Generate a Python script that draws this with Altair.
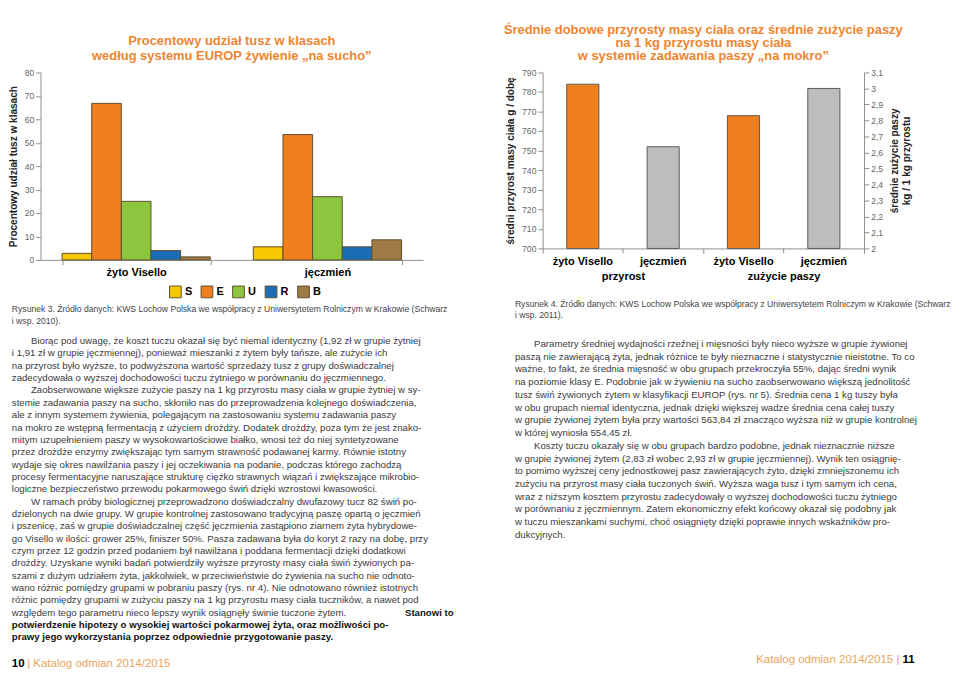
import altair as alt
import pandas as pd

FONT = "Liberation Sans"
ORANGE_T = "#EE8530"

# ---------------- Rysunek 3 data ----------------
grains = ["żyto Visello", "jęczmień"]
classes = ["S", "E", "U", "R", "B"]
share_rye = [2.8, 66.8, 25.0, 4.0, 1.3]
share_barley = [5.6, 53.5, 27.0, 5.6, 8.6]
class_colors = ["#F6C800", "#F0801E", "#8CC63E", "#1B6DB5", "#A07A45"]

# ---------------- Rysunek 4 data ----------------
groups4 = ["przyrost", "zużycie paszy"]
gain = [784, 752]        # g / dobę
feed = [2.83, 3.00]      # kg / 1 kg przyrostu
grain_colors = ["#F0801E", "#BDBDBD"]

# ---------------- texts ----------------
cap3 = ["Rysunek 3. Źródło danych: KWS Lochow Polska we współpracy z Uniwersytetem Rolniczym w Krakowie (Schwarz",
        "i wsp. 2010)."]
cap4 = ["Rysunek 4. Źródło danych: KWS Lochow Polska we współpracy z Uniwersytetem Rolniczym w Krakowie (Schwarz",
        "i wsp. 2011)."]

left_body = [
    "Biorąc pod uwagę, że koszt tuczu okazał się być niemal identyczny (1,92 zł w grupie żytniej",
    "i 1,91 zł w grupie jęczmiennej), ponieważ mieszanki z żytem były tańsze, ale zużycie ich",
    "na przyrost było wyższe, to podwyższona wartość sprzedaży tusz z grupy doświadczalnej",
    "zadecydowała o wyższej dochodowości tuczu żytniego w porównaniu do jęczmiennego.",
    "Zaobserwowane większe zużycie paszy na 1 kg przyrostu masy ciała w grupie żytniej w sy-",
    "stemie zadawania paszy na sucho, skłoniło nas do przeprowadzenia kolejnego doświadczenia,",
    "ale z innym systemem żywienia, polegającym na zastosowaniu systemu zadawania paszy",
    "na mokro ze wstępną fermentacją z użyciem drożdży. Dodatek drożdży, poza tym że jest znako-",
    "mitym uzupełnieniem paszy w wysokowartościowe białko, wnosi też do niej syntetyzowane",
    "przez drożdże enzymy zwiększając tym samym strawność podawanej karmy. Równie istotny",
    "wydaje się okres nawilżania paszy i jej oczekiwania na podanie, podczas którego zachodzą",
    "procesy fermentacyjne naruszające strukturę ciężko strawnych wiązań i zwiększające mikrobio-",
    "logiczne bezpieczeństwo przewodu pokarmowego świń dzięki wzrostowi kwasowości.",
    "W ramach próby biologicznej przeprowadzono doświadczalny dwufazowy tucz 82 świń po-",
    "dzielonych na dwie grupy. W grupie kontrolnej zastosowano tradycyjną paszę opartą o jęczmień",
    "i pszenicę, zaś w grupie doświadczalnej część jęczmienia zastąpiono ziarnem żyta hybrydowe-",
    "go Visello w ilości: grower 25%, finiszer 50%. Pasza zadawana była do koryt 2 razy na dobę, przy",
    "czym przez 12 godzin przed podaniem był nawilżana i poddana fermentacji dzięki dodatkowi",
    "drożdży. Uzyskane wyniki badań potwierdziły wyższe przyrosty masy ciała świń żywionych pa-",
    "szami z dużym udziałem żyta, jakkolwiek, w przeciwieństwie do żywienia na sucho nie odnoto-",
    "wano różnic pomiędzy grupami w pobraniu paszy (rys. nr 4). Nie odnotowano również istotnych",
    "różnic pomiędzy grupami w zużyciu paszy na 1 kg przyrostu masy ciała tuczników, a nawet pod",
    "względem tego parametru nieco lepszy wynik osiągnęły świnie tuczone żytem.",
    "potwierdzenie hipotezy o wysokiej wartości pokarmowej żyta, oraz możliwości po-",
    "prawy jego wykorzystania poprzez odpowiednie przygotowanie paszy.",
]
left_first = [0, 4, 13]
left_bold = [23, 24]
left_bold_tail = (22, "Stanowi to")

right_body = [
    "Parametry średniej wydajności rzeźnej i mięsności były nieco wyższe w grupie żywionej",
    "paszą nie zawierającą żyta, jednak różnice te były nieznaczne i statystycznie nieistotne. To co",
    "ważne, to fakt, że średnia mięsność w obu grupach przekroczyła 55%, dając średni wynik",
    "na poziomie klasy E. Podobnie jak w żywieniu na sucho zaobserwowano większą jednolitość",
    "tusz świń żywionych żytem w klasyfikacji EUROP (rys. nr 5). Średnia cena 1 kg tuszy była",
    "w obu grupach niemal identyczna, jednak dzięki większej wadze średnia cena całej tuszy",
    "w grupie żywionej żytem była przy wartości 563,84 zł znacząco wyższa niż w grupie kontrolnej",
    "w której wyniosła 554,45 zł.",
    "Koszty tuczu okazały się w obu grupach bardzo podobne, jednak nieznacznie niższe",
    "w grupie żywionej żytem (2,83 zł wobec 2,93 zł w grupie jęczmiennej). Wynik ten osiągnię-",
    "to pomimo wyższej ceny jednostkowej pasz zawierających żyto, dzięki zmniejszonemu ich",
    "zużyciu na przyrost masy ciała tuczonych świń. Wyższa waga tusz i tym samym ich cena,",
    "wraz z niższym kosztem przyrostu zadecydowały o wyższej dochodowości tuczu żytniego",
    "w porównaniu z jęczmiennym. Zatem ekonomiczny efekt końcowy okazał się podobny jak",
    "w tuczu mieszankami suchymi, choć osiągnięty dzięki poprawie innych wskaźników pro-",
    "dukcyjnych.",
]
right_first = [0, 8]

footer_num_left = "10"
footer_num_right = "11"
footer_label = "Katalog odmian 2014/2015"

# ================= Rysunek 3 chart =================
rows3 = []
for g, vals in zip(grains, [share_rye, share_barley]):
    for c, v in zip(classes, vals):
        rows3.append({"grupa": g, "klasa": c, "udzial": v})
df3 = pd.DataFrame(rows3)

H3 = 196
axis_gray = "#8a8a8a"
chart3 = alt.Chart(df3).mark_bar(stroke="#5a4a2a", strokeWidth=1).encode(
    x=alt.X("grupa:N", sort=grains,
            scale=alt.Scale(paddingInner=0.225, paddingOuter=0.1125),
            axis=alt.Axis(title=None, labelAngle=0, labelFontWeight="bold", labelFontSize=11.5,
                          labelColor="black", tickBand="extent", domainColor=axis_gray,
                          tickColor=axis_gray, labelFont=FONT)),
    xOffset=alt.XOffset("klasa:N", sort=classes, scale=alt.Scale(domain=classes)),
    y=alt.Y("udzial:Q", scale=alt.Scale(domain=[0, 80]),
            axis=alt.Axis(values=list(range(0, 81, 10)), title="Procentowy udział tusz w klasach",
                          titleFontSize=10.5, titleFontWeight="bold", titleColor="#222",
                          labelFontSize=9, labelColor="#666", grid=False, domainColor=axis_gray,
                          tickColor=axis_gray, titlePadding=6, labelFont=FONT, titleFont=FONT)),
    color=alt.Color("klasa:N", sort=classes,
                    scale=alt.Scale(domain=classes, range=class_colors),
                    legend=alt.Legend(orient="none", legendX=134, legendY=H3 + 26,
                                      direction="horizontal", title=None,
                                      symbolType="square", symbolSize=150,
                                      symbolStrokeColor="#5a4a2a", symbolStrokeWidth=1,
                                      labelFontWeight="bold", labelFontSize=11.5, labelColor="black",
                                      columnPadding=6, labelOffset=3, labelFont=FONT)),
).properties(
    width=400, height=H3,
    title=alt.TitleParams(["Procentowy udział tusz w klasach",
                           "według systemu EUROP żywienie „na sucho”"],
                          fontSize=13.5, color=ORANGE_T, font=FONT, fontWeight="bold",
                          anchor="middle", lineHeight=16, offset=6),
)

# ================= Rysunek 4 chart =================
rows4 = []
for g, vals in zip(groups4, [gain, feed]):
    for z, v in zip(grains, vals):
        rows4.append({"grupa": g, "zboze": z, "wartosc": v})
df4 = pd.DataFrame(rows4)

H4 = 184
W4 = 336
xenc = alt.X("grupa:N", sort=groups4, scale=alt.Scale(domain=groups4, paddingInner=0, paddingOuter=0),
             axis=alt.Axis(title=None, labelAngle=0, labelFontWeight="bold", labelFontSize=11.5,
                           labelColor="black", labelPadding=19, tickBand="extent",
                           domainColor=axis_gray, tickColor=axis_gray, labelFont=FONT))
xoff = alt.XOffset("zboze:N", sort=grains,
                   scale=alt.Scale(domain=grains, paddingInner=0.6, paddingOuter=0.3))
col4 = alt.Color("zboze:N", scale=alt.Scale(domain=grains, range=grain_colors), legend=None)

base4 = alt.Chart(df4).encode(x=xenc, xOffset=xoff)

bars_gain = base4.transform_filter(alt.datum.grupa == "przyrost").mark_bar(
    stroke="#555", strokeWidth=1).encode(
    y=alt.Y("wartosc:Q", scale=alt.Scale(domain=[700, 790], zero=False),
            axis=alt.Axis(values=list(range(700, 791, 10)),
                          title="średni przyrost masy ciała g / dobę",
                          titleFontSize=10.5, titleFontWeight="bold", titleColor="#222",
                          labelFontSize=9, labelColor="#666", grid=False, domainColor=axis_gray,
                          tickColor=axis_gray, titlePadding=6, labelFont=FONT, titleFont=FONT)),
    y2=alt.datum(700),
    color=col4,
)

bars_feed = base4.transform_filter(alt.datum.grupa == "zużycie paszy").mark_bar(
    stroke="#555", strokeWidth=1).encode(
    y=alt.Y("wartosc:Q", scale=alt.Scale(domain=[2.0, 3.1], zero=False),
            axis=alt.Axis(orient="right", values=[round(2 + 0.1 * i, 1) for i in range(12)],
                          labelExpr="replace(format(datum.value, '.1~f'), '.', ',')",
                          title=["średnie zużycie paszy", "kg / 1 kg przyrostu"],
                          titleAngle=270, titleFontSize=10.5, titleFontWeight="bold",
                          titleColor="#222", labelFontSize=9, labelColor="#666", grid=False,
                          domainColor=axis_gray, tickColor=axis_gray, titlePadding=5,
                          labelFont=FONT, titleFont=FONT)),
    y2=alt.datum(2.0),
    color=col4,
)

grain_labels = base4.mark_text(fontWeight="bold", fontSize=11.5, color="black",
                               baseline="middle", font=FONT).encode(
    y=alt.value(H4 + 14), text="zboze:N")

mid_ticks = alt.Chart(pd.DataFrame({"grupa": groups4})).mark_rule(color=axis_gray).encode(
    x=alt.X("grupa:N", sort=groups4), y=alt.value(H4), y2=alt.value(H4 + 5))

chart4 = alt.layer(bars_gain, bars_feed, grain_labels, mid_ticks).resolve_scale(
    y="independent").properties(
    width=W4, height=H4,
    title=alt.TitleParams(["Średnie dobowe przyrosty masy ciała oraz średnie zużycie paszy",
                           "na 1 kg przyrostu masy ciała",
                           "w systemie zadawania paszy „na mokro”"],
                          fontSize=13.5, color=ORANGE_T, font=FONT, fontWeight="bold",
                          anchor="middle", lineHeight=14, offset=6),
)

# ================= text panels =================
TXT = "#3a3a3a"
BODY_FS = 10.1


def text_panel(captions, body, first, bold_rows, tail, lh, cap_rows, body_start,
               footer_row, width, top, bottom, side, x0):
    recs = []
    for r, t in zip(cap_rows, captions):
        recs.append({"row": r, "text": t, "kind": "cap"})
    for i, t in enumerate(body):
        kind = "bold" if i in bold_rows else ("first" if i in first else "body")
        recs.append({"row": body_start + i, "text": t, "kind": kind})
    if tail is not None:
        recs.append({"row": body_start + tail[0], "text": tail[1], "kind": "tail"})
    if side == "left":
        recs.append({"row": footer_row, "text": footer_num_left, "kind": "fnum"})
        recs.append({"row": footer_row, "text": "|  " + footer_label, "kind": "flab"})
    else:
        recs.append({"row": footer_row, "text": footer_num_right, "kind": "fnum"})
        recs.append({"row": footer_row, "text": footer_label + "  |", "kind": "flab"})
    df = pd.DataFrame(recs)
    height = (bottom - top) * lh
    yenc = alt.Y("row:Q", scale=alt.Scale(domain=[top, bottom], reverse=True), axis=None)
    base = alt.Chart(df).encode(y=yenc, text="text:N")

    def sub(kind):
        return base.transform_filter(alt.datum.kind == kind)

    layers = [
        sub("cap").mark_text(align="left", baseline="middle", fontSize=9.0, color="#444",
                             font=FONT).encode(x=alt.value(x0)),
        sub("body").mark_text(align="left", baseline="middle", fontSize=BODY_FS, color=TXT,
                              font=FONT).encode(x=alt.value(x0)),
        sub("first").mark_text(align="left", baseline="middle", fontSize=BODY_FS, color=TXT,
                               font=FONT).encode(x=alt.value(x0 + 20)),
        sub("bold").mark_text(align="left", baseline="middle", fontSize=BODY_FS, color="#111",
                              fontWeight="bold", font=FONT).encode(x=alt.value(x0)),
        sub("tail").mark_text(align="right", baseline="middle", fontSize=BODY_FS, color="#111",
                              fontWeight="bold", font=FONT).encode(x=alt.value(width)),
    ]
    if side == "left":
        layers += [
            sub("fnum").mark_text(align="left", baseline="middle", fontSize=12, color="black",
                                  fontWeight="bold", font=FONT).encode(x=alt.value(x0)),
            sub("flab").mark_text(align="left", baseline="middle", fontSize=12, color="#E9A35C",
                                  font=FONT).encode(x=alt.value(x0 + 16)),
        ]
    else:
        layers += [
            sub("fnum").mark_text(align="right", baseline="middle", fontSize=12, color="black",
                                  fontWeight="bold", font=FONT).encode(x=alt.value(width)),
            sub("flab").mark_text(align="right", baseline="middle", fontSize=12, color="#E9A35C",
                                  font=FONT).encode(x=alt.value(width - 16)),
        ]
    return alt.layer(*layers).properties(width=width, height=height)


left_text = text_panel(cap3, left_body, left_first, left_bold, left_bold_tail, 12.9,
                       [0, 1.0], 2.64, 28.7, 432, -0.62, 29.05, "left", -30)
right_text = text_panel(cap4, right_body, right_first, [], None, 13.3,
                        [0, 0.9], 3.16, 27.9, 418, -0.23, 28.55, "right", 0)

charts_row = alt.concat(chart3, chart4, columns=2, align="none", spacing=84).resolve_scale(
    color="independent", xOffset="independent", x="independent", y="independent")
text_row = alt.hconcat(left_text, right_text, spacing=64, bounds="flush").resolve_scale(
    y="independent", x="independent")

chart = alt.vconcat(charts_row, text_row, spacing=0).resolve_scale(
    color="independent", xOffset="independent", x="independent", y="independent"
).properties(padding=0).configure_view(stroke=None)

chart.save("out.html", embed_options={"renderer": "svg", "actions": False})
